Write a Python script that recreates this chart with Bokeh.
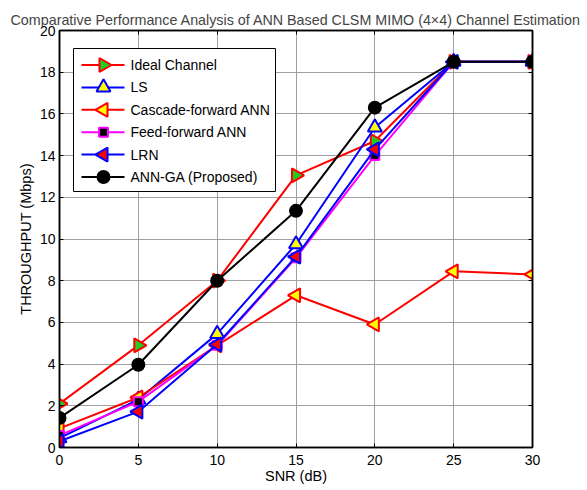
import numpy as np
from bokeh.plotting import figure
from bokeh.models import Range1d, LinearAxis, FixedTicker
from bokeh.core.properties import value
from bokeh.embed import file_html
from bokeh.resources import INLINE

snr = [0, 5, 10, 15, 20, 25, 30]
ideal = [2.1, 4.9, 8.0, 13.05, 14.7, 18.5, 18.5]
ls = [0.45, 2.3, 5.45, 9.75, 15.35, 18.5, 18.5]
cascade = [0.92, 2.4, 4.9, 7.3, 5.9, 8.45, 8.3]
feed = [0.58, 2.2, 4.9, 9.1, 14.0, 18.5, 18.5]
lrn = [0.3, 1.72, 4.95, 9.15, 14.3, 18.5, 18.5]
annga = [1.42, 3.97, 8.0, 11.35, 16.3, 18.5, 18.5]
names = ["Ideal Channel", "LS", "Cascade-forward ANN", "Feed-forward ANN",
         "LRN", "ANN-GA (Proposed)"]
y_ticks = list(range(0, 21, 2))

FONT = "Liberation Sans"

# layout (pixels)
FL, FW, FT, FH = 59, 473, 30, 417
W, H = 587, 490
XMIN, XMAX, YMIN, YMAX = 0, 30, 0, 20

p = figure(frame_width=FW, frame_height=FH, output_backend="svg", toolbar_location=None,
           x_range=Range1d(XMIN, XMAX), y_range=Range1d(YMIN, YMAX),
           min_border_left=FL, min_border_right=W - FL - FW,
           min_border_top=FT, min_border_bottom=H - FT - FH)
p.title.text = "Comparative Performance Analysis of ANN Based CLSM MIMO (4\u00d74) Channel Estimation"
p.title.align = "center"
p.title.text_font = FONT
p.title.text_font_size = "14.3px"
p.title.text_font_style = "normal"
p.title.offset = 0
p.title.standoff = 6

p.outline_line_color = "black"
p.outline_line_width = 1.5
p.border_fill_color = "white"

for ax in (p.xaxis[0], p.yaxis[0]):
    ax.major_tick_in = 4
    ax.major_tick_out = 0
    ax.minor_tick_in = 0
    ax.minor_tick_out = 0
    ax.axis_line_color = "black"
    ax.axis_line_width = 1.5
    ax.major_tick_line_color = "black"
    ax.major_label_text_font = FONT
    ax.major_label_text_font_size = "14px"
    ax.major_label_text_color = "black"
    ax.axis_label_text_font = FONT
    ax.axis_label_text_font_size = "14.5px"
    ax.axis_label_text_font_style = "normal"
    ax.axis_label_text_color = "black"

p.xaxis.ticker = FixedTicker(ticks=snr)
p.yaxis.ticker = FixedTicker(ticks=y_ticks)
p.xaxis.axis_label = "SNR (dB)"
p.yaxis.axis_label = "THROUGHPUT (Mbps)"
p.xaxis.major_label_standoff = 7
p.yaxis.major_label_standoff = 4
p.xaxis.axis_label_standoff = 0
p.yaxis.axis_label_standoff = 3

# mirrored tick marks on the right and top (no labels)
for loc, ticks in (("right", y_ticks), ("above", snr)):
    ax = LinearAxis(ticker=FixedTicker(ticks=ticks),
                    major_label_text_color=None, major_label_text_font_size="1px",
                    major_tick_in=4, major_tick_out=0, minor_tick_in=0, minor_tick_out=0,
                    axis_line_color="black", axis_line_width=1.5)
    p.add_layout(ax, loc)

p.xgrid.grid_line_color = "#a0a0a0"
p.ygrid.grid_line_color = "#a0a0a0"

series = [
    (ideal, "#ff0000", "triangle", -np.pi / 2, "#22cc22", "#ff0000", 14),
    (ls, "#0000ff", "triangle", 0.0, "#ffff00", "#0000ff", 14),
    (cascade, "#ff0000", "triangle", np.pi / 2, "#ffff00", "#ff0000", 14),
    (feed, "#ff00ff", "square", 0.0, "#000000", "#ff00ff", 9),
    (lrn, "#0000ff", "triangle", np.pi / 2, "#ff0000", "#0000ff", 14),
    (annga, "#000000", "circle", 0.0, "#000000", "#000000", 12),
]

for ys, lc, mk, ang, fc, ec, sz in series:
    p.line(snr, ys, line_color=lc, line_width=2)
    p.scatter(snr, ys, marker=mk, angle=ang, size=sz, fill_color=fc,
              line_color=ec, line_width=2)

# ---- manual legend (placed in pixel layout, converted to data units) ----
def dx(px):
    return XMIN + (px - FL) / FW * (XMAX - XMIN)

def dy(py):
    return YMIN + (FT + FH - py) / FH * (YMAX - YMIN)

box_l, box_r, box_t, box_b = 73, 275, 48, 191
row0, row_step = 64.5, 22.4
seg_l, seg_r, mk_x, txt_x = 81, 124, 103, 130

p.quad(left=[dx(box_l)], right=[dx(box_r)], top=[dy(box_t)], bottom=[dy(box_b)],
       fill_color="white", line_color="black", line_width=1)
for i, (name, (ys, lc, mk, ang, fc, ec, sz)) in enumerate(zip(names, series)):
    yy = dy(row0 + i * row_step)
    p.segment(x0=[dx(seg_l)], x1=[dx(seg_r)], y0=[yy], y1=[yy], line_color=lc, line_width=2)
    p.scatter([dx(mk_x)], [yy], marker=mk, angle=ang, size=sz, fill_color=fc,
              line_color=ec, line_width=2)
    p.text([dx(txt_x)], [yy], text=[name], text_font=value(FONT), text_font_size="14px",
           text_baseline="middle", text_align="left", text_color="black")

open("out.html", "w").write(file_html(p, INLINE))
